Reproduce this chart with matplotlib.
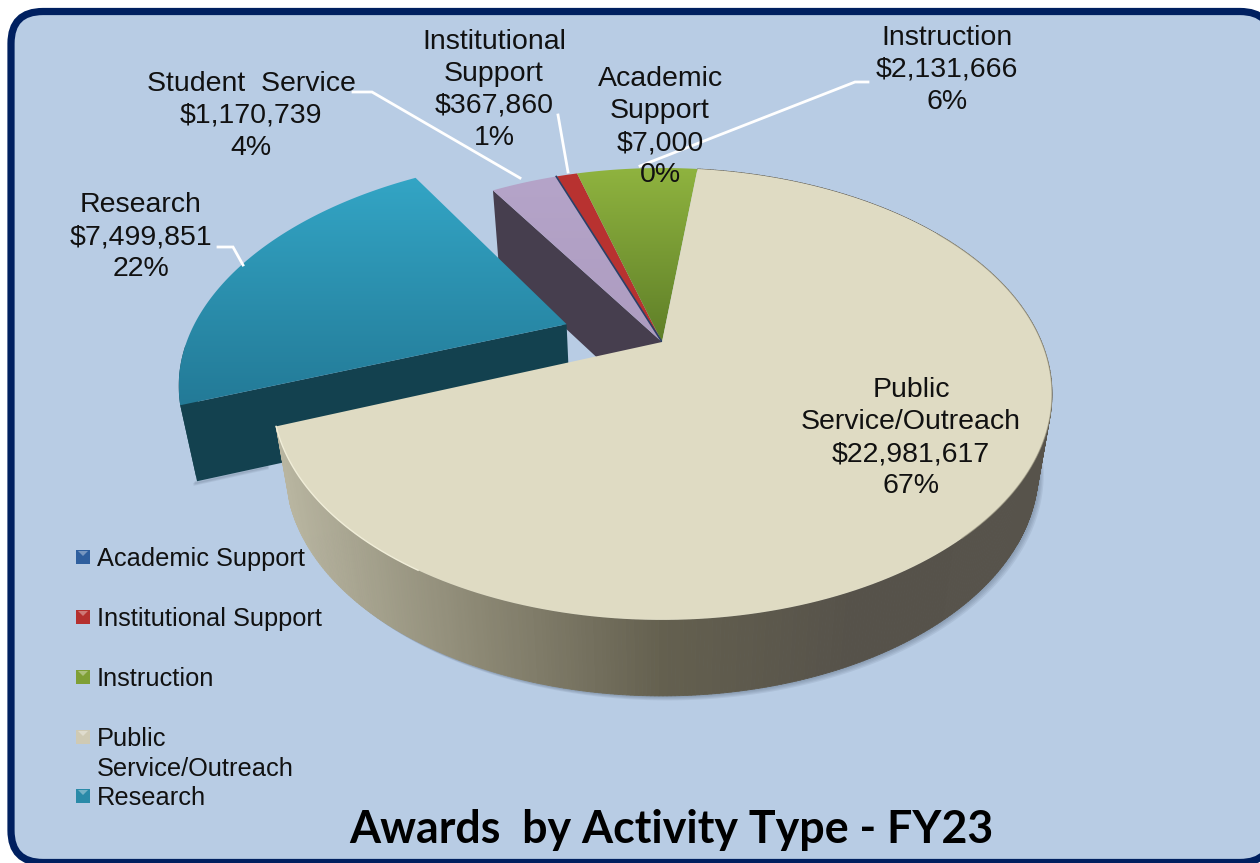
import numpy as np
import matplotlib
matplotlib.use("Agg")
import matplotlib.pyplot as plt
from matplotlib.patches import FancyBboxPatch, Polygon, Rectangle
from matplotlib.collections import PolyCollection
from matplotlib.colors import LinearSegmentedColormap

# slices in drawing order, clockwise from the top of the pie
names = ["Public\nService/Outreach", "Research", "Student  Service", "Academic\nSupport",
         "Institutional\nSupport", "Instruction"]
values = [22981617, 7499851, 1170739, 7000, 367860, 2131666]
pcts = [67, 22, 4, 0, 1, 6]
explode = [0, 0.27, 0, 0, 0, 0]

legend_names = ["Academic Support", "Institutional Support", "Instruction",
                "Public\nService/Outreach", "Research"]
legend_cols = ["#2f5f9e", "#b5302e", "#7f9f35", "#cfcab4", "#2a8aa8"]
title = "Awards  by Activity Type - FY23"

START = 6.6   # first slice angle
CX, CY = 662, 342
F, G, K = 379.5, 214, 0.23   # perspective of the pie
H, S = 76, 0.965   # thickness

plt.rcParams["font.family"] = ["Liberation Sans", "DejaVu Sans"]

fig = plt.figure(figsize=(12.6, 8.63), dpi=100, facecolor="white")
ax = fig.add_axes([0, 0, 1, 1])


def project(u, v):
    d = 1 + K * v
    return CX + F * u / d, CY - G * v / d


def bottom(x, y):
    return CX + (x - CX) * S, y + H


def sector(a0, a1, e=0, n=200):
    t = np.radians(np.linspace(a0, a1, n))
    mid = np.radians((a0 + a1) / 2)
    du, dv = e * np.sin(mid), e * np.cos(mid)
    x, y = project(np.sin(t) + du, np.cos(t) + dv)
    ax_, ay_ = project(du, dv)
    return x, y, ax_, ay_


def grad_poly(x, y, top, low, z):
    # vertical gradient clipped to a polygon
    pts = np.column_stack([x, y])
    cm = LinearSegmentedColormap.from_list("g", [top, low])
    im = ax.imshow(np.linspace(0, 1, 256)[:, None], cmap=cm, aspect="auto", zorder=z,
                   extent=[min(x), max(x), max(y), min(y)])
    clip = Polygon(pts, closed=True, transform=ax.transData)
    im.set_clip_path(clip)


# frame, its right and bottom edges run off the picture
ax.add_patch(FancyBboxPatch((11, 11.5), 1261, 851, boxstyle="round,pad=0,rounding_size=32",
                            fc="#b8cce4", ec="#002060", lw=5.2, zorder=0))

angles = START + np.cumsum([0] + values) / sum(values) * 360

# public slice geometry first, it sits on top of everything
px, py, pax, pay = sector(angles[0], angles[1])

# soft shadow under the near part of the pie body
near = np.linspace(75, angles[1] - 8, 300)
nx, ny = project(np.sin(np.radians(near)), np.cos(np.radians(near)))
bx, by = bottom(nx, ny)
for off in [9, 7, 5, 3]:
    ax.fill(bx + off * 0.6, by + off * 0.5, color="#46546a", alpha=0.10, lw=0, zorder=1)

# student service cut face
sx, sy, sax, say = sector(angles[2], angles[3])
bx0, by0 = bottom(sx[0], sy[0])
bx1, by1 = bottom(sax, say)
ax.add_patch(Polygon([(sx[0], sy[0]), (sax, say), (bx1, by1), (bx0, by0)], fc="#463e4e", ec="none", zorder=2))

# research wall and top
rx, ry, rax, ray = sector(angles[1], angles[2], explode[1])
bx0, by0 = bottom(rx[0], ry[0])
bx1, by1 = bottom(rax, ray)
for off in [6, 4, 2]:
    ax.plot([bx0 - off * 0.4, bx0 + 70], [by0 + off * 0.5, by0 - 16 + off * 0.5], color="#46546a",
            alpha=0.10, lw=2, zorder=2)
ax.add_patch(Polygon([(rx[0], ry[0]), (rax, ray), (bx1, by1), (bx0, by0)], fc="#13414f", ec="none", zorder=3))
lx, ly = rx[:40], ry[:40]
lbx, lby = bottom(lx, ly)
ax.add_patch(Polygon(np.column_stack([np.r_[lx, lbx[::-1]], np.r_[ly, lby[::-1]]]), fc="#13414f", ec="none", zorder=3))
grad_poly(np.r_[rx, rax], np.r_[ry, ray], "#33a5c5", "#237a97", 4)

# small slices on top
grad_poly(np.r_[sx, sax], np.r_[sy, say], "#b5a4c9", "#ad9cc0", 5)
ix, iy, iax, iay = sector(angles[4], angles[5])
ax.add_patch(Polygon(np.column_stack([np.r_[ix, iax], np.r_[iy, iay]]), fc="#b83230", ec="none", zorder=5))
gx, gy, gax, gay = sector(angles[5], angles[6])
grad_poly(np.r_[gx, gax], np.r_[gy, gay], "#8fb33f", "#5f7f28", 5)
ax0, ay0, aax, aay = sector(angles[3], angles[4])
ax.plot(np.r_[ax0[0], aax], np.r_[ay0[0], aay], color="#2a3f66", lw=1.2, zorder=6)

# public wall, shaded strip by strip along the rim
wall_cm = LinearSegmentedColormap.from_list("w", ["#b8b5a0", "#8d8975", "#64604f", "#56524a", "#57534b"])
t = np.linspace(angles[0], angles[1], 500)
wx, wy = project(np.sin(np.radians(t)), np.cos(np.radians(t)))
wbx, wby = bottom(wx, wy)
strips = []
cols = []
for i in range(len(t) - 1):
    strips.append([(wx[i], wy[i]), (wx[i + 1], wy[i + 1]), (wbx[i + 1], wby[i + 1]), (wbx[i], wby[i])])
    cols.append(wall_cm(np.clip((wx[i] - 280) / 770, 0, 1)))
ax.add_collection(PolyCollection(strips, facecolors=cols, edgecolors=cols, linewidths=0.6, zorder=7))

# public top
ax.add_patch(Polygon(np.column_stack([np.r_[px, pax], np.r_[py, pay]]), fc="#dfdbc3", ec="none", zorder=8))
ax.plot(px[40:110], py[40:110], color="#9b9782", lw=0.8, alpha=0.6, zorder=9)
ax.plot(px[168:], py[168:], color="#f1eed9", lw=1.0, zorder=9)

# leader lines
leaders = [
    ([353, 372, 520], [92, 92, 178]),
    ([558, 568], [115, 172]),
    ([868, 855, 640], [82, 82, 166]),
    ([218, 233, 243], [247, 247, 265]),
]
for lxs, lys in leaders:
    ax.plot(lxs, lys, color="white", lw=2, zorder=10, solid_joinstyle="miter")

# data labels
label_pos = [(911, 438), (141, 237), (251, 116), (660, 127), (494, 90), (947, 70)]
for name, val, pct, (x, y) in zip(names, values, pcts, label_pos):
    ax.text(x, y, f"{name}\n${val:,}\n{pct}%", ha="center", va="center", fontsize=20.5,
            color="#111111", linespacing=1.3, zorder=12)

# legend
leg_y = [557, 617, 677, 737, 796]
for name, col, y in zip(legend_names, legend_cols, leg_y):
    ax.add_patch(Rectangle((76, y - 7), 14, 14, fc=col, ec="none", zorder=12))
    ax.add_patch(Polygon([(78, y - 6), (88, y - 6), (83, y - 1)], fc="white", alpha=0.35, ec="none", zorder=13))
    ax.text(97, y - 10, name, ha="left", va="top", fontsize=18.3, color="#111111",
            linespacing=1.34, zorder=12)

ax.text(671, 830, title, ha="center", va="center", fontsize=32.2, fontweight="bold",
        family=["Lato", "DejaVu Sans"], color="black", zorder=12)

ax.set_xlim(0, 1260)
ax.set_ylim(863, 0)
ax.axis("off")
fig.savefig("out.png", dpi=100, facecolor="white")
